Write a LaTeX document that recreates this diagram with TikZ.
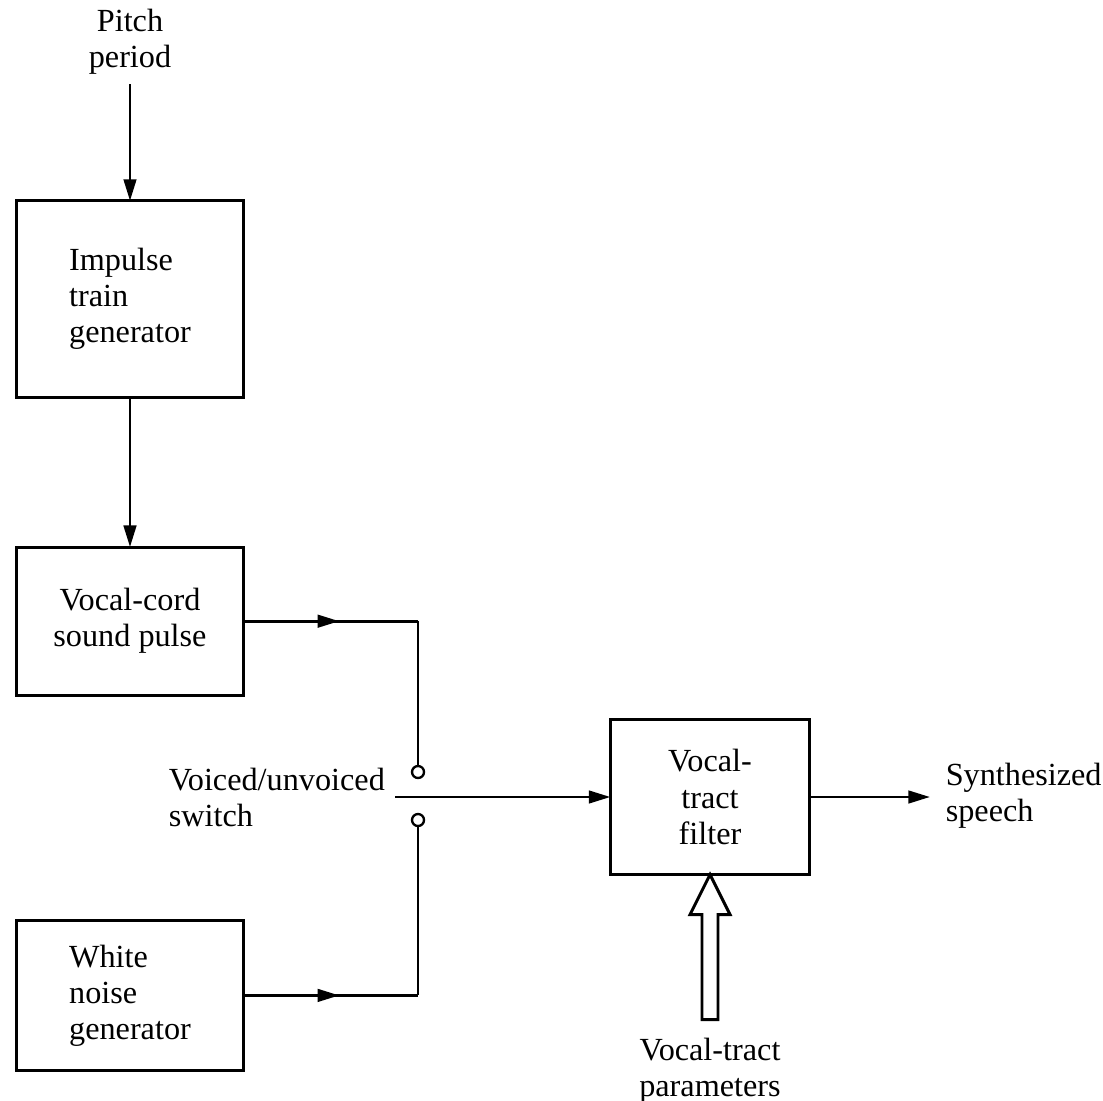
\documentclass[tikz,border=0pt]{standalone}
\usepackage{fontspec}
\setmainfont{Liberation Serif}
\usetikzlibrary{positioning,arrows.meta,decorations.markings}

\begin{document}
\begin{tikzpicture}[x=0.012cm,y=-0.012cm,line width=1pt,
    every node/.style={outer sep=0pt,font=\fontsize{11}{12.3}\selectfont},
    block/.style={draw,line width=1pt,minimum width=2.712cm,align=left},
    tip/.style={-{Triangle[length=2.6mm,width=1.5mm]}},
    midarrow/.style={decoration={markings,
      mark=at position 0.55 with {\arrow{Triangle[length=2.6mm,width=1.5mm]}}},
      postaction={decorate}},
    contact/.style={circle,draw,line width=0.8pt,inner sep=0pt,minimum size=0.144cm}]

    \useasboundingbox (0,0) rectangle (1103,1101);

    \node[block,minimum height=2.352cm] (itg) at (130,299) {Impulse\\train\\generator};
    \node[block,minimum height=1.776cm,below=1.8cm of itg,align=center] (vcs) {Vocal-cord\\sound pulse};
    \node[block,minimum height=1.8cm,below=2.7cm of vcs] (wng) {White\\noise\\generator};
    \node[draw,minimum width=2.388cm,minimum height=1.86cm,align=center] (vtf) at (710,797) {Vocal-\\tract\\filter};

    \node[align=center] (pitch) at (130,42) {Pitch\\period};
    \draw[tip] (pitch.south) -- (itg.north);
    \draw[tip] (itg.south) -- (vcs.north);

    % switch
    \node[contact] (c1) at (418,772) {};
    \node[contact] (c2) at (418,820) {};
    \coordinate (sw) at (395,797);
    \node[align=left,anchor=west] (swlab) at (159,797) {Voiced/unvoiced\\switch};

    \draw[midarrow] (vcs.east) -- (c1|-vcs.east) coordinate (k1);
    \draw (k1) -- (c1.north);
    \draw[midarrow] (wng.east) -- (c2|-wng.east) coordinate (k2);
    \draw (k2) -- (c2.south);
    \draw[tip] (sw) -- (vtf.west);

    \coordinate (out) at (930,797);
    \draw[tip] (vtf.east) -- (out);
    \node[align=left,anchor=west] (speech) at (936,796) {Synthesized\\speech};

    % parameter input
    \draw[line join=miter] (vtf.south) -- ++(-20,40) -- ++(12,0) -- ++(0,105)
      -- ++(16,0) -- ++(0,-105) -- ++(12,0) -- cycle;
    \path (vtf.south) ++(0,145) coordinate (ptail);
    \node[align=center,below=0.1cm of ptail] (parlab) {Vocal-tract\\parameters};
\end{tikzpicture}
\end{document}
